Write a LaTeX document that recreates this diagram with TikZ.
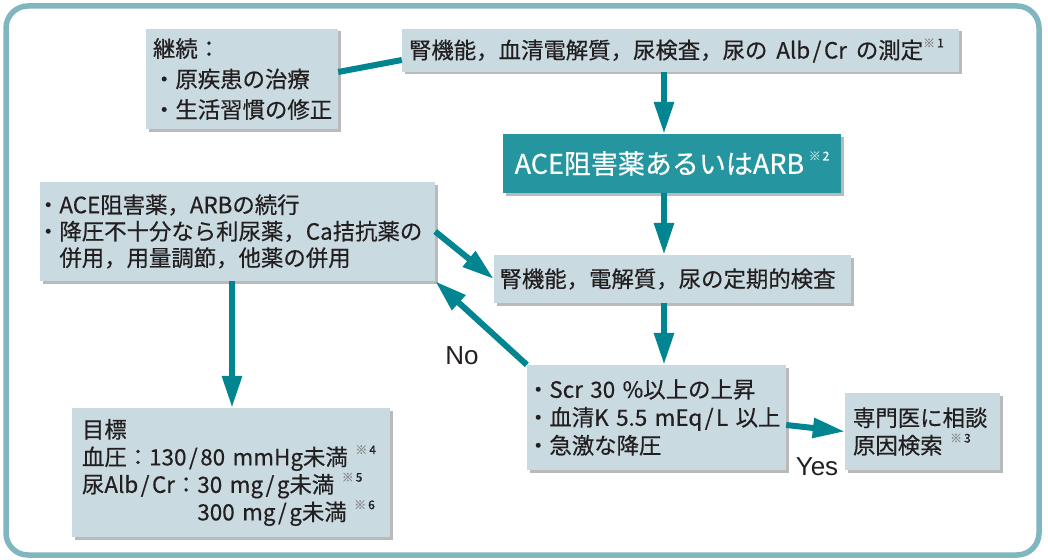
\documentclass[tikz,border=0pt]{standalone}
\usepackage{fontspec}
\setmainfont{Noto Sans CJK JP}[FakeBold=0.5]
\newfontfamily\latinf{Liberation Sans}
\usetikzlibrary{arrows.meta,shadows,calc}
\definecolor{boxc}{HTML}{C9DAE1}
\definecolor{arrc}{HTML}{008591}
\definecolor{acec}{HTML}{2596A0}
\definecolor{framec}{HTML}{80B6C0}
\definecolor{txtc}{HTML}{231F20}
\definecolor{komec}{HTML}{8A8A8A}
\definecolor{komew}{HTML}{B8D6DA}
\newcommand\kome[2][komec]{\raisebox{0.5em}{\fontsize{12}{12}\selectfont{\color{#1}※}\,#2}}
\newcommand\sls{\kern2.5pt/\kern2.5pt}
\begin{document}
\begin{tikzpicture}[x=1pt,y=-1pt,
  box/.style={fill=boxc, text=txtc, drop shadow={shadow xshift=2.5pt,shadow yshift=-2.5pt,opacity=0.45,fill=black!60}, inner ysep=0pt, align=left, font=\fontsize{22.4}{27.5}\selectfont},
  arr/.style={draw=arrc, line width=6pt, -{Triangle[width=19pt,length=32pt]}},
  conn/.style={draw=arrc, line width=6pt},
  lab/.style={font=\latinf\fontsize{26}{26}\selectfont, text=txtc, inner sep=0pt}
]
\useasboundingbox (0,0) rectangle (1048,559);
\fill[white] (0,0) rectangle (1048,559);
\draw[draw=framec, line width=5.5pt, rounded corners=22pt] (6,6) rectangle (1039,555);

% boxes
\node[box, minimum width=192pt, minimum height=100pt, text width=178pt, inner xsep=7pt, font=\fontsize{22.4}{30.5}\selectfont] (keizoku) at (242,79)
  {\mbox{継続：}\\\mbox{・原疾患の治療}\\\mbox{・生活習慣の修正}};
\node[box, minimum width=557pt, minimum height=43pt, text width=543pt, inner xsep=7pt] (top) at (680.5,50.5)
  {\mbox{腎機能，血清電解質，尿検査，尿の\hspace{0.4em}Alb\sls Cr\hspace{0.4em}の測定\kome{1}}};
\node[fill=acec, text=white, drop shadow={shadow xshift=2.5pt,shadow yshift=-2.5pt,opacity=0.45,fill=black!60}, minimum width=338pt, minimum height=59pt, inner sep=0pt, font=\fontsize{27}{27}\selectfont] (ace) at (672,163.5)
  {ACE阻害薬あるいはARB\,\kome[komew]{2}};
\node[box, minimum width=395pt, minimum height=99pt, text width=395pt, inner xsep=0pt, font=\fontsize{22.4}{26.5}\selectfont] (left) at (237.5,231.5)
  {\mbox{\hspace*{-3pt}・ACE阻害薬，ARBの続行}\\\mbox{\hspace*{-3pt}・降圧不十分なら利尿薬，Ca拮抗薬の}\\\mbox{\hspace*{-3pt}　併用，用量調節，他薬の併用}};
\node[box, minimum width=357pt, minimum height=48pt, text width=346pt, inner xsep=5.5pt] (ken) at (672.5,279)
  {\mbox{腎機能，電解質，尿の定期的検査}};
\node[box, minimum width=259pt, minimum height=105pt, text width=259pt, inner xsep=0pt, font=\fontsize{22.4}{28}\selectfont] (scr) at (656.5,417.5)
  {\mbox{・Scr 30 \%以上の上昇}\\\mbox{・血清K 5.5 mEq\sls L 以上}\\\mbox{・急激な降圧}};
\node[box, minimum width=155pt, minimum height=77pt, text width=139pt, inner xsep=8pt] (sen) at (922.5,431.5)
  {\mbox{専門医に相談}\\\mbox{原因検索 \kome{3}}};
\node[box, minimum width=318pt, minimum height=129pt, text width=298pt, inner xsep=10pt] (goal) at (231,472.5)
  {\mbox{目標}\\\mbox{血圧：130\sls 80 mmHg未満 \kome{4}}\\\mbox{尿Alb\sls Cr：30 mg\sls g未満 \kome{5}}\\\mbox{\phantom{尿Alb\sls Cr：}300 mg\sls g未満 \kome{6}}};

% connectors
\coordinate (cx) at (664,0);
\coordinate (lx) at (232,0);
\draw[conn] ([yshift=7pt]keizoku.east) -- ([yshift=-9.5pt]top.west);
\draw[arr] (top.south -| cx) -- (ace.north -| cx);
\draw[arr] (ace.south -| cx) -- (ken.north -| cx);
\draw[arr] (ken.south -| cx) -- (scr.north -| cx);
\draw[arr] (left.east) -- (ken.west);
\draw[arr] (scr.north west) -- (left.south east);
\draw[arr] (left.south -| lx) -- (goal.north -| lx);
\draw[arr] ([yshift=-7.5pt]scr.east) -- (sen.west);

\node[lab] (no) at (462,356) {No};
\node[lab] (yes) at (817,467) {Yes};
\end{tikzpicture}
\end{document}
